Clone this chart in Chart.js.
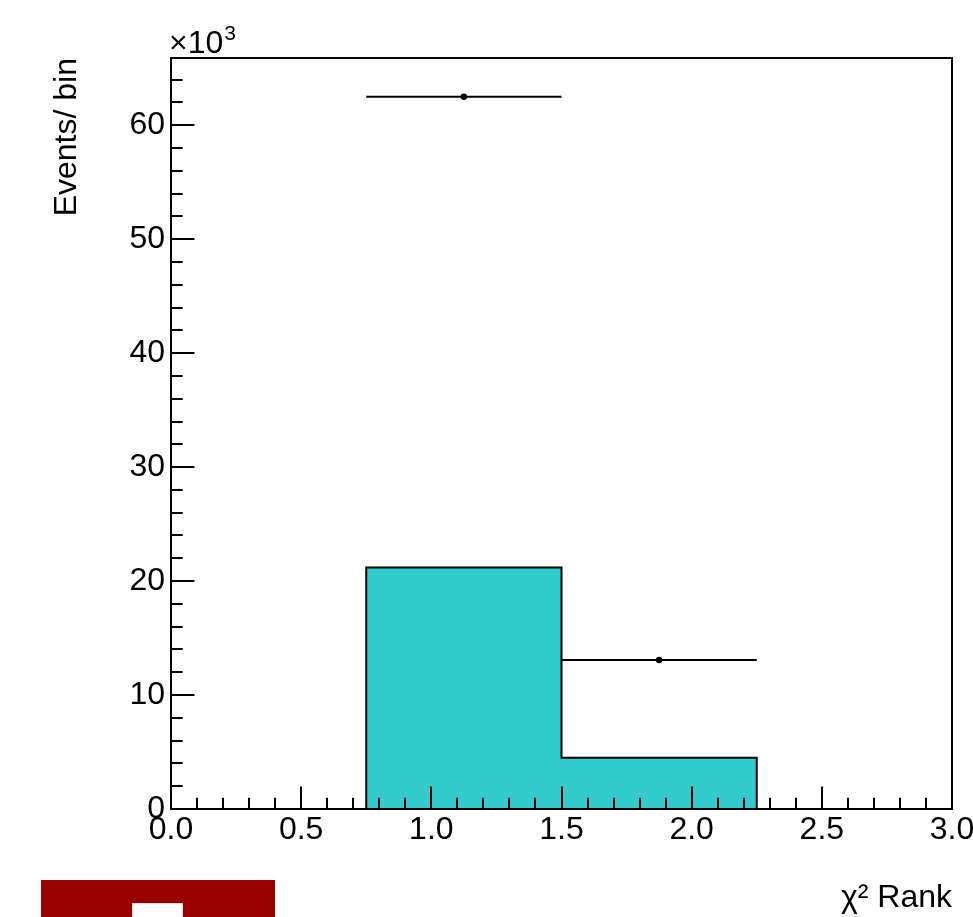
<!DOCTYPE html>
<html>
<head>
<meta charset="utf-8">
<script src="https://cdn.jsdelivr.net/npm/chart.js@4/dist/chart.umd.min.js"></script>
<style>
  html, body { margin: 0; padding: 0; background: #fff; }
  #wrap { width: 973px; height: 917px; }
</style>
</head>
<body>
<div id="wrap"><canvas id="c" width="973" height="917"></canvas></div>
<script>
// χ² rank distribution, counts in units of 10^3 events per bin
const binEdges = [0.75, 1.5, 2.25];
const mcCounts = [21.2, 4.5];
const dataX = [1.125, 1.875];
const dataY = [62.5, 13.07];
const dataXErr = [0.375, 0.375];
const xTickValues = [0, 0.5, 1, 1.5, 2, 2.5, 3];
const yTickValues = [0, 10, 20, 30, 40, 50, 60];
const xRange = [0, 3];
const yRange = [0, 65.9];
const xTitle = 'χ² Rank';
const yTitle = 'Events/ bin';

const FONT = 'Liberation Sans, Arial, Helvetica, sans-serif';
const FSIZE = 32;
const FILL = '#33cccc';

// stepped outline of the filled histogram
const histPts = [{ x: binEdges[0], y: 0 }];
mcCounts.forEach((v, i) => histPts.push({ x: binEdges[i], y: v }));
histPts.push({ x: binEdges[binEdges.length - 1], y: 0 });

// horizontal error bars, separated by gaps
const errPts = [];
dataX.forEach((x, i) => {
  errPts.push({ x: x - dataXErr[i], y: dataY[i] });
  errPts.push({ x: x + dataXErr[i], y: dataY[i] });
  errPts.push({ x: x + dataXErr[i], y: null });
});

const markers = dataX.map((x, i) => ({ x, y: dataY[i] }));

// frame, inward tick marks, exponent label and logo block
const framePlugin = {
  id: 'frame',
  afterDraw(chart) {
    const { ctx, chartArea: a, scales: { x, y } } = chart;
    ctx.save();
    ctx.strokeStyle = '#000';
    ctx.lineWidth = 2;
    ctx.strokeRect(a.left, a.top, a.right - a.left, a.bottom - a.top);

    const xLen = a.bottom - a.top, yLen = a.right - a.left;
    ctx.beginPath();
    for (let k = 0; k <= Math.round((x.max - x.min) / 0.1); k++) {
      const v = x.min + k * 0.1;
      const px = Math.round(x.getPixelForValue(v));
      const len = (k % 5 === 0) ? 0.03 * xLen : 0.015 * xLen;
      ctx.moveTo(px, a.bottom);
      ctx.lineTo(px, a.bottom - len);
    }
    for (let k = 0; y.min + k * 2 <= y.max; k++) {
      const v = y.min + k * 2;
      const py = Math.round(y.getPixelForValue(v));
      const len = (k % 5 === 0) ? 0.03 * yLen : 0.015 * yLen;
      ctx.moveTo(a.left, py);
      ctx.lineTo(a.left + len, py);
    }
    ctx.stroke();

    // ×10^3 exponent
    ctx.fillStyle = '#000';
    ctx.textBaseline = 'alphabetic';
    ctx.textAlign = 'left';
    ctx.font = FSIZE + 'px ' + FONT;
    ctx.fillText('×10', a.left - 2, a.top - 5);
    const w = ctx.measureText('×10').width;
    ctx.font = '21px ' + FONT;
    ctx.fillText('3', a.left - 2 + w + 1, a.top - 18);

    // logo block
    ctx.fillStyle = '#990000';
    ctx.fillRect(41, 880, 234, 40);
    ctx.fillStyle = '#ffffff';
    ctx.fillRect(132, 903, 51, 20);
    ctx.strokeStyle = '#dddddd';
    ctx.lineWidth = 1;
    ctx.strokeRect(132.5, 903.5, 50, 20);
    ctx.restore();
  }
};

new Chart(document.getElementById('c'), {
  type: 'line',
  data: {
    datasets: [
      {
        data: histPts,
        stepped: 'before',
        borderColor: '#000',
        borderWidth: 2,
        backgroundColor: FILL,
        fill: 'origin',
        pointRadius: 0,
        order: 3
      },
      {
        data: errPts,
        borderColor: '#000',
        borderWidth: 2,
        pointRadius: 0,
        fill: false,
        spanGaps: false,
        order: 2
      },
      {
        type: 'scatter',
        data: markers,
        pointRadius: 3.2,
        pointBackgroundColor: '#000',
        pointBorderWidth: 0,
        showLine: false,
        order: 1
      }
    ]
  },
  options: {
    responsive: false,
    animation: false,
    devicePixelRatio: 1,
    layout: { padding: { left: 0, top: 58, right: 21, bottom: 0 } },
    plugins: { legend: { display: false }, tooltip: { enabled: false } },
    scales: {
      x: {
        type: 'linear',
        min: xRange[0],
        max: xRange[1],
        afterBuildTicks(s) { s.ticks = xTickValues.map(v => ({ value: v })); },
        afterFit(s) { s.height = 108; s.paddingLeft = 0; s.paddingRight = 0; },
        grid: { display: false, drawTicks: false },
        border: { display: false },
        ticks: {
          color: '#000',
          font: { family: FONT, size: FSIZE },
          padding: 2,
          maxRotation: 0,
          autoSkip: false,
          callback: v => Number(v).toFixed(1)
        },
        title: {
          display: true,
          text: xTitle,
          align: 'end',
          color: '#000',
          font: { family: FONT, size: FSIZE },
          padding: { top: 0, bottom: 0 }
        }
      },
      y: {
        type: 'linear',
        min: yRange[0],
        max: yRange[1],
        afterBuildTicks(s) { s.ticks = yTickValues.map(v => ({ value: v })); },
        afterFit(s) { s.width = 171; s.paddingTop = 0; s.paddingBottom = 0; },
        grid: { display: false, drawTicks: false },
        border: { display: false },
        ticks: {
          color: '#000',
          font: { family: FONT, size: FSIZE },
          padding: 6,
          callback: v => String(v)
        },
        title: {
          display: true,
          text: yTitle,
          align: 'end',
          color: '#000',
          font: { family: FONT, size: FSIZE },
          padding: { top: 48, bottom: 0 }
        }
      }
    }
  },
  plugins: [framePlugin]
});
</script>
</body>
</html>
